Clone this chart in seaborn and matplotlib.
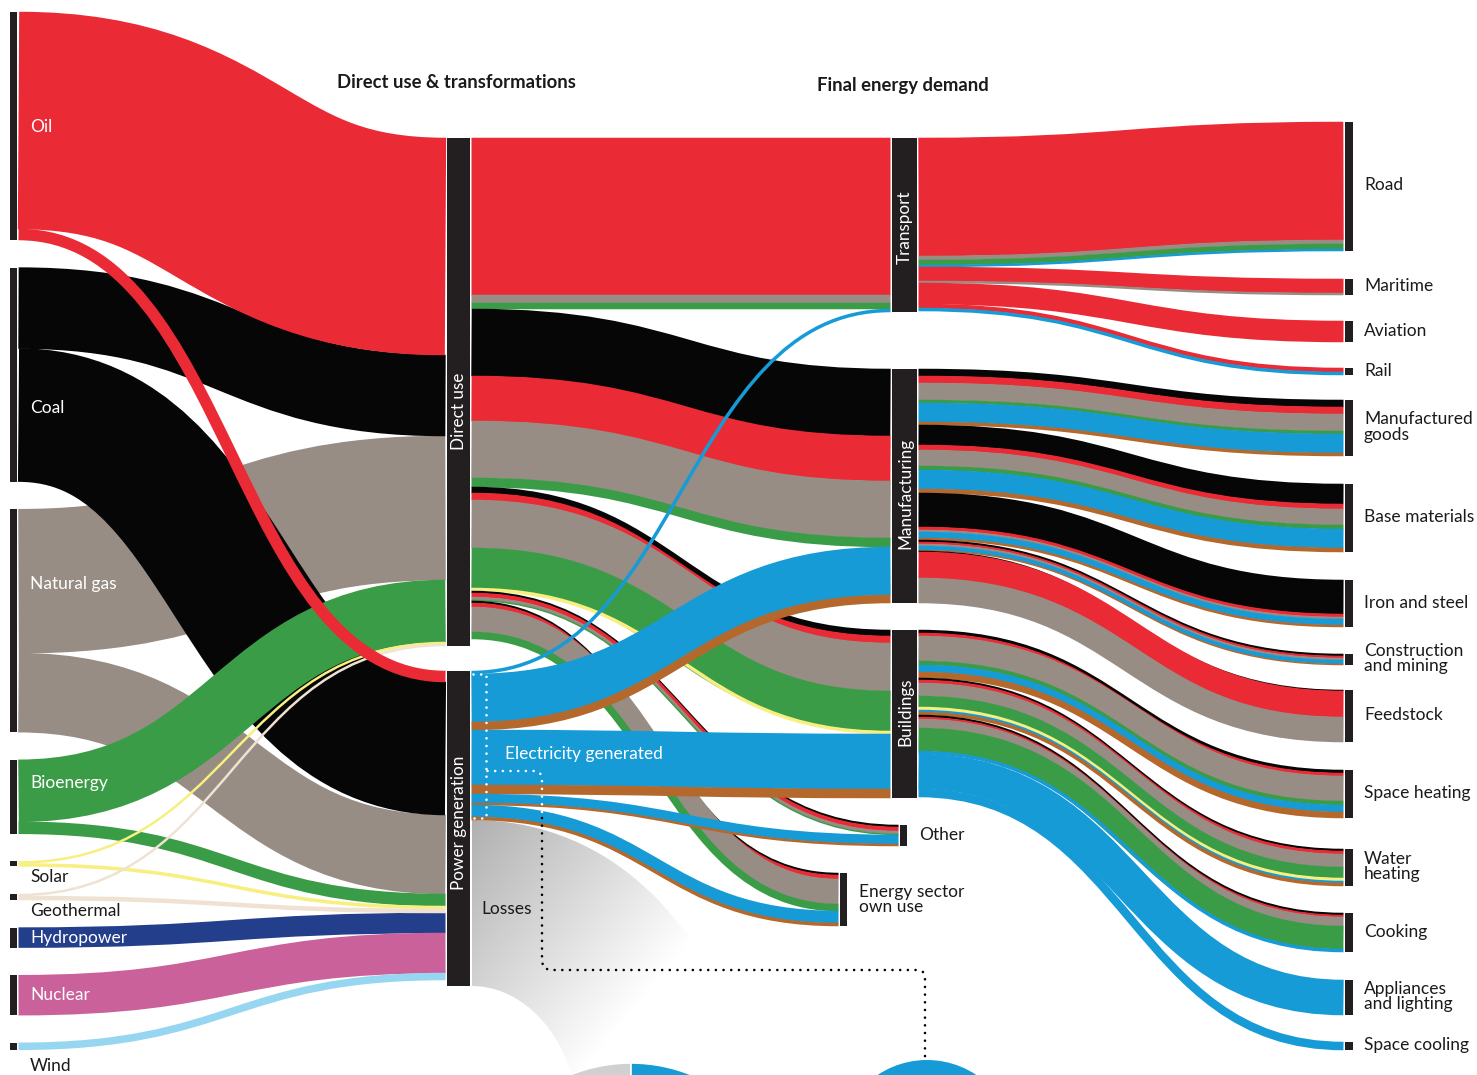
import matplotlib
matplotlib.use("Agg")
import matplotlib.pyplot as plt
import seaborn as sns
import numpy as np
from collections import defaultdict
from matplotlib.path import Path
from matplotlib.patches import PathPatch, Wedge, Circle, Rectangle

# ---- data: flows (relative energy units) ----
sources = ["Oil", "Coal", "Natural gas", "Bioenergy", "Solar", "Geothermal",
           "Hydropower", "Nuclear", "Wind"]
transforms = ["Direct use", "Power generation"]
sectors = ["Transport", "Manufacturing", "Buildings", "Other", "Energy sector own use"]
end_uses = ["Road", "Maritime", "Aviation", "Rail", "Manufactured goods", "Base materials",
            "Iron and steel", "Construction and mining", "Feedstock", "Space heating",
            "Water heating", "Cooking", "Appliances and lighting", "Space cooling"]

# primary energy -> direct use / power generation
supply_links = [
    ("Oil", "Direct use", 217), ("Oil", "Power generation", 11),
    ("Coal", "Direct use", 81), ("Coal", "Power generation", 133),
    ("Natural gas", "Direct use", 144), ("Natural gas", "Power generation", 79),
    ("Bioenergy", "Direct use", 62), ("Bioenergy", "Power generation", 12),
    ("Solar", "Direct use", 2), ("Solar", "Power generation", 3),
    ("Geothermal", "Direct use", 2), ("Geothermal", "Power generation", 4),
    ("Hydropower", "Power generation", 20),
    ("Nuclear", "Power generation", 40),
    ("Wind", "Power generation", 7),
]

# direct use / power generation -> final demand sectors (by carrier)
sector_links = [
    ("Direct use", "Transport", "Oil", 157), ("Direct use", "Transport", "Natural gas", 8),
    ("Direct use", "Transport", "Bioenergy", 6),
    ("Direct use", "Manufacturing", "Coal", 67), ("Direct use", "Manufacturing", "Oil", 45),
    ("Direct use", "Manufacturing", "Natural gas", 57), ("Direct use", "Manufacturing", "Bioenergy", 9),
    ("Direct use", "Buildings", "Coal", 6), ("Direct use", "Buildings", "Oil", 7),
    ("Direct use", "Buildings", "Natural gas", 48), ("Direct use", "Buildings", "Bioenergy", 40),
    ("Direct use", "Buildings", "Solar", 3),
    ("Direct use", "Other", "Coal", 2), ("Direct use", "Other", "Oil", 4),
    ("Direct use", "Other", "Natural gas", 3), ("Direct use", "Other", "Bioenergy", 1),
    ("Direct use", "Energy sector own use", "Coal", 2), ("Direct use", "Energy sector own use", "Oil", 4),
    ("Direct use", "Energy sector own use", "Natural gas", 25),
    ("Direct use", "Energy sector own use", "Bioenergy", 7),
    ("Power generation", "Transport", "Electricity", 3),
    ("Power generation", "Manufacturing", "Electricity", 48), ("Power generation", "Manufacturing", "Heat", 8),
    ("Power generation", "Buildings", "Electricity", 55), ("Power generation", "Buildings", "Heat", 9),
    ("Power generation", "Other", "Electricity", 9), ("Power generation", "Other", "Heat", 2),
    ("Power generation", "Energy sector own use", "Electricity", 12),
    ("Power generation", "Energy sector own use", "Heat", 3),
]
power_losses = 166

# sectors -> end uses (by carrier)
end_use_links = [
    ("Transport", "Road", "Oil", 118), ("Transport", "Road", "Natural gas", 4),
    ("Transport", "Road", "Bioenergy", 5), ("Transport", "Road", "Electricity", 2),
    ("Transport", "Maritime", "Oil", 14), ("Transport", "Maritime", "Natural gas", 2),
    ("Transport", "Aviation", "Oil", 21),
    ("Transport", "Rail", "Oil", 4), ("Transport", "Rail", "Electricity", 3),
    ("Manufacturing", "Manufactured goods", "Coal", 7), ("Manufacturing", "Manufactured goods", "Oil", 7),
    ("Manufacturing", "Manufactured goods", "Natural gas", 17), ("Manufacturing", "Manufactured goods", "Bioenergy", 3),
    ("Manufacturing", "Manufactured goods", "Electricity", 19), ("Manufacturing", "Manufactured goods", "Heat", 3),
    ("Manufacturing", "Base materials", "Coal", 20), ("Manufacturing", "Base materials", "Oil", 5),
    ("Manufacturing", "Base materials", "Natural gas", 16), ("Manufacturing", "Base materials", "Bioenergy", 4),
    ("Manufacturing", "Base materials", "Electricity", 19), ("Manufacturing", "Base materials", "Heat", 4),
    ("Manufacturing", "Iron and steel", "Coal", 34), ("Manufacturing", "Iron and steel", "Oil", 3),
    ("Manufacturing", "Iron and steel", "Natural gas", 2), ("Manufacturing", "Iron and steel", "Electricity", 6),
    ("Manufacturing", "Iron and steel", "Heat", 2),
    ("Manufacturing", "Construction and mining", "Coal", 2), ("Manufacturing", "Construction and mining", "Oil", 2),
    ("Manufacturing", "Construction and mining", "Natural gas", 2),
    ("Manufacturing", "Construction and mining", "Electricity", 4),
    ("Manufacturing", "Construction and mining", "Heat", 1),
    ("Manufacturing", "Feedstock", "Coal", 1), ("Manufacturing", "Feedstock", "Oil", 26),
    ("Manufacturing", "Feedstock", "Natural gas", 25),
    ("Buildings", "Space heating", "Coal", 3), ("Buildings", "Space heating", "Oil", 3),
    ("Buildings", "Space heating", "Natural gas", 25), ("Buildings", "Space heating", "Bioenergy", 4),
    ("Buildings", "Space heating", "Electricity", 7), ("Buildings", "Space heating", "Heat", 6),
    ("Buildings", "Water heating", "Coal", 2), ("Buildings", "Water heating", "Oil", 3),
    ("Buildings", "Water heating", "Natural gas", 13), ("Buildings", "Water heating", "Bioenergy", 11),
    ("Buildings", "Water heating", "Solar", 3), ("Buildings", "Water heating", "Electricity", 2),
    ("Buildings", "Water heating", "Heat", 3),
    ("Buildings", "Cooking", "Coal", 2), ("Buildings", "Cooking", "Oil", 2),
    ("Buildings", "Cooking", "Natural gas", 9), ("Buildings", "Cooking", "Bioenergy", 23),
    ("Buildings", "Cooking", "Electricity", 3),
    ("Buildings", "Appliances and lighting", "Electricity", 35),
    ("Buildings", "Space cooling", "Electricity", 8),
]

# ---- style ----
carrier_colors = {
    "Oil": "#EA2A35", "Coal": "#060606", "Natural gas": "#978D84", "Bioenergy": "#3B9C47",
    "Solar": "#F7EF80", "Geothermal": "#F0E2D2", "Hydropower": "#233F8B", "Nuclear": "#CB619B",
    "Wind": "#97D6F1", "Electricity": "#169BD7", "Heat": "#B4682B",
}
BAR = "#231F20"
DPI = 100
SCALE = 1.0  # pixels per unit

sns.set_theme(style="white")
plt.rcParams["font.family"] = ["Lato", "DejaVu Sans"]

fig = plt.figure(figsize=(14.77, 10.75), dpi=DPI)
ax = fig.add_axes([0, 0, 1, 1])
ax.set_xlim(0, 1477)
ax.set_ylim(1075, 0)
ax.axis("off")

# ---- layout ----
links = [(s, t, s, v) for s, t, v in supply_links] + sector_links + end_use_links
out_sum, in_sum = defaultdict(float), defaultdict(float)
for s, t, c, v in links:
    out_sum[s] += v
    in_sum[t] += v
out_sum["Power generation"] += power_losses

columns = [sources, transforms, sectors, end_uses]
col_top = [12, 138, 138, 122]
col_gaps = [[27.6] * 8, [25], [57, 27, 27, 27],
            [28, 26, 26, 25, 28, 28, 27, 25, 28, 31, 27, 28, 27]]
col_x = [(10, 7), (447, 23), (892, 25), (1345, 8)]
x_override = {"Other": (900, 7), "Energy sector own use": (840, 7)}

node = {}
for ci, names in enumerate(columns):
    y = col_top[ci]
    for i, n in enumerate(names):
        h = max(out_sum[n], in_sum[n]) * SCALE
        x, w = x_override.get(n, col_x[ci])
        node[n] = dict(x=x, w=w, y=y, h=h)
        if i < len(names) - 1:
            y += h + col_gaps[ci][i]

out_cur = {n: d["y"] for n, d in node.items()}
in_cur = {n: d["y"] for n, d in node.items()}
geom = []
for s, t, c, v in links:
    w = v * SCALE
    y0 = out_cur[s]; out_cur[s] += w
    y1 = in_cur[t]; in_cur[t] += w
    x0 = node[s]["x"] + node[s]["w"] + 1.5
    x1 = node[t]["x"] - 1.5
    geom.append((s, t, c, x0, y0 + w / 2, x1, y1 + w / 2, w))

supply_z = {"Natural gas": 2.0, "Coal": 2.1, "Hydropower": 2.2, "Nuclear": 2.2, "Wind": 2.2,
            "Bioenergy": 2.3, "Solar": 2.4, "Geothermal": 2.4, "Oil": 2.5}


def draw_link(x0, y0, x1, y1, width, color, z):
    xm = (x0 + x1) / 2
    path = Path([(x0, y0), (xm, y0), (xm, y1), (x1, y1)],
                [Path.MOVETO, Path.CURVE4, Path.CURVE4, Path.CURVE4])
    ax.add_patch(PathPatch(path, facecolor="none", edgecolor=color,
                           lw=(width + 0.5) * 72 / DPI, capstyle="butt", zorder=z))


for k, (s, t, c, x0, y0, x1, y1, w) in enumerate(geom):
    z = supply_z[s] if s in sources else 3 + k * 1e-4
    draw_link(x0, y0, x1, y1, w, carrier_colors[c], z)

# ---- losses fan (gradient) ----
pg = node["Power generation"]
lx = pg["x"] + pg["w"] + 1.5
l_top = out_cur["Power generation"]
l_bot = l_top + power_losses * SCALE
fan = Path([(lx, l_top), (595, l_top), (700, 900), (755, 1075), (572, 1075),
            (555, 1020), (515, l_bot), (lx, l_bot), (lx, l_top)],
           [Path.MOVETO, Path.CURVE4, Path.CURVE4, Path.CURVE4, Path.LINETO,
            Path.CURVE4, Path.CURVE4, Path.CURVE4, Path.CLOSEPOLY])
fan_patch = PathPatch(fan, facecolor="none", edgecolor="none")
ax.add_patch(fan_patch)
gx, gy = np.meshgrid(np.linspace(lx, 800, 200), np.linspace(l_top, 1075, 160))
tt = np.clip(((gx - lx) * 0.75 + (gy - l_top) * 0.62) / 240, 0, 1)
img = ax.imshow(0.69 + 0.31 * tt, cmap="gray", vmin=0, vmax=1, origin="upper",
                extent=(lx, 800, 1075, l_top), aspect="auto", interpolation="bilinear", zorder=1)
img.set_clip_path(fan_patch)
ax.set_xlim(0, 1477)
ax.set_ylim(1075, 0)

# ---- node bars ----
for n, d in node.items():
    ax.add_patch(Rectangle((d["x"], d["y"]), d["w"], d["h"], facecolor=BAR,
                           edgecolor="none", zorder=5))

# ---- pies at the bottom ----
ax.add_patch(Wedge((631, 1224), 161, 180, 270, facecolor="#D0D0D0", edgecolor="white", lw=1.2, zorder=4))
ax.add_patch(Wedge((631, 1224), 161, 270, 360, facecolor=carrier_colors["Electricity"],
                   edgecolor="white", lw=1.2, zorder=4))
ax.add_patch(Circle((927, 1149), 89, facecolor=carrier_colors["Electricity"], edgecolor="none", zorder=4))

# ---- dotted guides ----
dot_kw = dict(lw=1.9, linestyle=(0, (0.01, 2.9)), dash_capstyle="round", zorder=8)
bx = lx + 14
ax.plot([lx + 1, bx, bx, lx + 1], [pg["y"] + 3, pg["y"] + 3, l_top - 2, l_top - 2], color="white", **dot_kw)
ax.plot([bx + 2, 535, 540, 542, 542], [771, 771, 773, 778, 812], color="white", **dot_kw)
ax.plot([542, 542, 544, 550, 917, 923, 925, 925], [818, 962, 968, 970, 970, 972, 978, 1058],
        color="black", **dot_kw)

# ---- text ----
FS = 12.5
ax.text(456, 82, "Direct use & transformations", ha="center", va="center",
        fontsize=13.3, fontweight="bold", color="#1A1A1A", zorder=9)
ax.text(903, 85, "Final energy demand", ha="center", va="center",
        fontsize=13.3, fontweight="bold", color="#1A1A1A", zorder=9)

src_label_dy = {"Oil": 115, "Coal": 140, "Natural gas": 75, "Bioenergy": 23, "Solar": 16,
                "Geothermal": 17, "Hydropower": 10, "Nuclear": 20, "Wind": 23}
dark_labels = {"Solar", "Geothermal", "Wind"}
for n in sources:
    ax.text(30, node[n]["y"] + src_label_dy[n], n, ha="left", va="center", fontsize=FS,
            color="#1A1A1A" if n in dark_labels else "white", zorder=9)

bar_label_dy = {"Direct use": 19, "Power generation": -6, "Transport": 2,
                "Manufacturing": 7, "Buildings": -2}
for n, dy in bar_label_dy.items():
    d = node[n]
    ax.text(d["x"] + d["w"] / 2 + 0.5, d["y"] + d["h"] / 2 + dy, n, rotation=90, ha="center",
            va="center", fontsize=12.3, color="white", zorder=9)

ax.text(919, node["Other"]["y"] + node["Other"]["h"] / 2, "Other", ha="left", va="center",
        fontsize=FS, color="#1A1A1A", zorder=9)
d = node["Energy sector own use"]
ax.text(859, d["y"] + d["h"] / 2, "Energy sector\nown use", ha="left", va="center",
        fontsize=FS, color="#1A1A1A", linespacing=0.95, zorder=9)

end_use_text = {"Manufactured goods": "Manufactured\ngoods",
                "Construction and mining": "Construction\nand mining",
                "Water heating": "Water\nheating",
                "Appliances and lighting": "Appliances\nand lighting"}
for n in end_uses:
    d = node[n]
    ax.text(1364, d["y"] + d["h"] / 2 - 1, end_use_text.get(n, n), ha="left", va="center",
            fontsize=FS, color="#1A1A1A", linespacing=0.95, zorder=9)

ax.text(505, 754, "Electricity generated", ha="left", va="center", fontsize=FS, color="white", zorder=9)
ax.text(481, 909, "Losses", ha="left", va="center", fontsize=FS, color="#1A1A1A", zorder=9)

fig.savefig("out.png", dpi=DPI)
